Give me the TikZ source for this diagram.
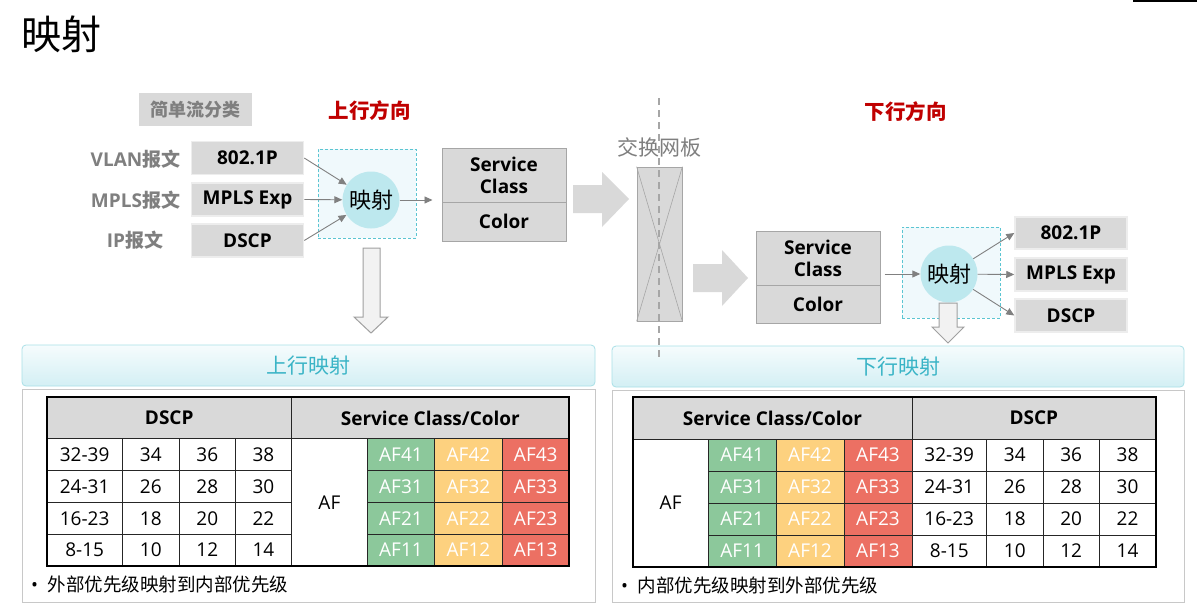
\documentclass[tikz,border=0pt]{standalone}
\usepackage{fontspec}
\setmainfont{Open Sans}
\newfontfamily\cjk{Noto Sans CJK SC}
\usetikzlibrary{arrows.meta}
\definecolor{boxgray}{HTML}{D9D9D9}
\definecolor{pktedge}{HTML}{EDEDED}
\definecolor{edgegray}{HTML}{A6A6A6}
\definecolor{txtgray}{HTML}{7F7F7F}
\definecolor{arrgray}{HTML}{808080}
\definecolor{dirred}{HTML}{C00000}
\definecolor{dashcyan}{HTML}{5BC5D2}
\definecolor{mapfill}{HTML}{F0F9FC}
\definecolor{circfill}{HTML}{BDE8EE}
\definecolor{hdrtop}{HTML}{F6FCFD}
\definecolor{hdrbot}{HTML}{D3EFF4}
\definecolor{hdredge}{HTML}{A9E0E7}
\definecolor{hdrtext}{HTML}{3AB4C6}
\definecolor{panedge}{HTML}{C8C8C8}
\definecolor{hollowfill}{HTML}{F2F2F2}
\definecolor{hollowedge}{HTML}{A0A0A0}
\definecolor{afgreen}{HTML}{8CC89B}
\definecolor{afyellow}{HTML}{FDD17F}
\definecolor{afred}{HTML}{EC7063}
\tikzset{
  txt/.style={inner sep=0pt, outer sep=0pt},
  pktbox/.style={rectangle, fill=boxgray, draw=pktedge, line width=1.5pt, minimum width=112pt, minimum height=33pt, inner sep=0pt, font=\fontsize{19}{23}\selectfont\bfseries},
  pktlbl/.style={txt, text=txtgray, font=\fontsize{19}{23}\selectfont\bfseries},
  flowarr/.style={draw=arrgray, line width=0.9pt, -{Triangle[length=8pt,width=7pt]}},
  mapzone/.style={rectangle, draw=dashcyan, dash pattern=on 3pt off 2pt, line width=0.9pt, fill=mapfill, inner sep=0pt},
  mapcirc/.style={circle, fill=circfill, minimum size=57pt, inner sep=0pt, font=\cjk\fontsize{22}{26}\selectfont},
  scpart/.style={rectangle, fill=boxgray, draw=edgegray, line width=1pt, minimum width=124pt, inner sep=0pt, align=center, font=\fontsize{19}{22}\selectfont\bfseries},
  blockarr/.style={fill=boxgray, draw=none},
  hollowarr/.style={fill=hollowfill, draw=hollowedge, line width=1pt},
  hdr/.style={rectangle, rounded corners=4pt, top color=hdrtop, bottom color=hdrbot, draw=hdredge, line width=0.8pt, minimum height=41pt, inner sep=0pt, text=hdrtext, font=\cjk\fontsize{21}{25}\selectfont},
  panel/.style={draw=panedge, line width=1pt, fill=white},
  cell/.style={txt, font=\fontsize{19}{23}\selectfont},
  afcell/.style={txt, text=white, font=\fontsize{19}{23}\selectfont},
  headcell/.style={txt, font=\fontsize{19}{23}\selectfont\bfseries},
  gridline/.style={draw=black!85, line width=0.9pt},
  tframe/.style={draw=black, line width=2.4pt},
  note/.style={txt, anchor=west, font=\fontsize{18.5}{22}\selectfont},
  dirlbl/.style={txt, text=dirred, font=\cjk\bfseries\fontsize{20.5}{24}\selectfont},
}
\begin{document}
\begin{tikzpicture}[x=1pt,y=-1pt]
\useasboundingbox (0,0) rectangle (1197,608);
\fill[white] (0,0) rectangle (1197,608);
\draw[line width=1.5pt] (1133,0.75) -- (1197,0.75);

% title
\node[txt, anchor=west, font=\cjk\fontsize{40}{48}\selectfont] (title) at (21,34) {映射};

% upstream
\node[rectangle, fill=boxgray, minimum width=113pt, minimum height=33pt, inner sep=0pt, text=txtgray, font=\cjk\bfseries\fontsize{18}{22}\selectfont] (sfc) at (195.5,109.5) {简单流分类};
\node[dirlbl] (updir) at (369.5,111) {上行方向};

\node[pktlbl] (lblvlan) at (135.5,159) {VLAN{\cjk 报文}};
\node[pktlbl] (lblmpls) at (135.5,200) {MPLS{\cjk 报文}};
\node[pktlbl] (lblip) at (135,240) {IP{\cjk 报文}};

\node[pktbox] (up8021p) at (247.5,158) {802.1P};
\node[pktbox] (upmpls) at (247.5,199.5) {MPLS Exp};
\node[pktbox] (updscp) at (247.5,240.5) {DSCP};

\node[mapzone, minimum width=98pt, minimum height=89pt] (upzone) at (367,193.5) {};
\node[mapcirc] (upmap) at (371,200) {映射};

\draw[flowarr] (up8021p.east) -- (upmap);
\draw[flowarr] (upmpls.east) -- (upmap);
\draw[flowarr] (updscp.east) -- (upmap);

\node[scpart, minimum height=54pt] (sc1top) at (504,175) {Service\\Class};
\node[scpart, minimum height=39pt] (sc1bot) at (504,221.5) {Color};
\draw[flowarr, shorten >=9pt] (upmap) -- (upmap -| sc1top.west);

% hollow down arrow (up)
\draw[hollowarr] (363,248) -- (380,248) -- (380,317) -- (388,317) -- (371,333) -- (354,317) -- (363,317) -- cycle;

% block arrows
\fill[blockarr] (573,185) -- (602,185) -- (602,172) -- (629,199) -- (602,227) -- (602,213) -- (573,213) -- cycle;
\fill[blockarr] (693,264) -- (722,264) -- (722,250) -- (748,278) -- (722,306) -- (722,292) -- (693,292) -- cycle;

% switch fabric
\node[txt, text=txtgray, font=\cjk\fontsize{21}{25}\selectfont] (fabriclbl) at (659,147) {交换网板};
\node[rectangle, fill=boxgray, draw=edgegray, line width=0.8pt, minimum width=45pt, minimum height=154pt, inner sep=0pt] (fabric) at (659.5,244) {};
\draw[edgegray, line width=0.6pt] (fabric.north west) -- (fabric.south east);
\draw[edgegray, line width=0.6pt] (fabric.north east) -- (fabric.south west);

% downstream
\node[dirlbl] (downdir) at (905.5,112) {下行方向};
\node[scpart, minimum height=54pt] (sc2top) at (818,258) {Service\\Class};
\node[scpart, minimum height=38pt] (sc2bot) at (818,304) {Color};
\node[mapzone, minimum width=98pt, minimum height=91pt] (dnzone) at (951,272.5) {};
\node[mapcirc] (dnmap) at (949,274) {映射};
\draw[flowarr, shorten <=4pt] (dnmap -| sc2top.east) -- (dnmap);

\node[pktbox, minimum height=32pt] (dn8021p) at (1071,233) {802.1P};
\node[pktbox] (dnmpls) at (1071,274.5) {MPLS Exp};
\node[pktbox] (dndscp) at (1071,315.5) {DSCP};
\draw[flowarr] (dnmap) -- (dn8021p.west);
\draw[flowarr] (dnmap) -- (dnmpls.west);
\draw[flowarr] (dnmap) -- (dndscp.west);

\draw[hollowarr] (939,303) -- (957,303) -- (957,327) -- (964,327) -- (948,343) -- (932,327) -- (939,327) -- cycle;

% panels
\node[hdr, minimum width=573pt] (uphdr) at (308.5,365.5) {上行映射};
\node[hdr, minimum width=572pt] (dnhdr) at (898,366.5) {下行映射};
\draw[panel] (22,389.5) rectangle (595,602);
\draw[panel] (612.5,390) rectangle (1184,602);

% dashed separator
\draw[draw=edgegray, line width=1.5pt, dash pattern=on 7pt off 5pt] (659,98) -- (659,357);

% ---- left table ----
\fill[boxgray] (47,397) rectangle (569.2,438.5);
\fill[afgreen] (367.3,438.5) rectangle (434.6,566);
\fill[afyellow] (434.6,438.5) rectangle (502.3,566);
\fill[afred] (502.3,438.5) rectangle (569.2,566);
\foreach \gx in {122.3,179.2,235.4,367.3,434.6,502.3} \draw[gridline] (\gx,438.5) -- (\gx,566);
\draw[gridline] (291.5,397) -- (291.5,566);
\draw[gridline] (47,438.5) -- (569.2,438.5);
\foreach \gy in {470.4,502.3,534.2} {
  \draw[gridline] (47,\gy) -- (291.5,\gy);
  \draw[gridline] (367.3,\gy) -- (569.2,\gy);
}
\draw[tframe] (47,397) rectangle (569.2,566);
\node[headcell] (LHd) at (169.25,418) {DSCP};
\node[headcell] (LHs) at (430.35,418) {Service Class/Color};
\node[cell] (LAF) at (329.4,502.3) {AF};
\foreach \yc/\a/\b/\c/\d/\n [count=\r] in {454.4/32-39/34/36/38/4, 486.3/24-31/26/28/30/3, 518.3/16-23/18/20/22/2, 550.1/8-15/10/12/14/1} {
  \node[cell] (L-\r-a) at (84.65,\yc) {\a};
  \node[cell] (L-\r-b) at (150.75,\yc) {\b};
  \node[cell] (L-\r-c) at (207.3,\yc) {\c};
  \node[cell] (L-\r-d) at (263.45,\yc) {\d};
  \node[afcell] (L-\r-e) at (400.95,\yc) {AF\n1};
  \node[afcell] (L-\r-f) at (468.45,\yc) {AF\n2};
  \node[afcell] (L-\r-g) at (535.75,\yc) {AF\n3};
}
\node[note] (upnote) at (31,584) {•\hspace{10pt}{\cjk 外部优先级映射到内部优先级}};

% ---- right table ----
\fill[boxgray] (633,397) rectangle (1155.7,439);
\fill[afgreen] (708.3,439) rectangle (776,567);
\fill[afyellow] (776,439) rectangle (844,567);
\fill[afred] (844,439) rectangle (912,567);
\foreach \gx in {708.3,776,844,986.5,1043,1099.4} \draw[gridline] (\gx,439) -- (\gx,567);
\draw[gridline] (912,397) -- (912,567);
\draw[gridline] (633,439) -- (1155.7,439);
\foreach \gy in {471,503,535} {
  \draw[gridline] (708.3,\gy) -- (1155.7,\gy);
}
\draw[tframe] (633,397) rectangle (1155.7,567);
\node[headcell] (RHs) at (772.5,418) {Service Class/Color};
\node[headcell] (RHd) at (1033.85,418) {DSCP};
\node[cell] (RAF) at (670.65,503) {AF};
\foreach \yc/\a/\b/\c/\d/\n [count=\r] in {455/32-39/34/36/38/4, 487/24-31/26/28/30/3, 519/16-23/18/20/22/2, 551/8-15/10/12/14/1} {
  \node[afcell] (R-\r-e) at (742.15,\yc) {AF\n1};
  \node[afcell] (R-\r-f) at (810,\yc) {AF\n2};
  \node[afcell] (R-\r-g) at (878,\yc) {AF\n3};
  \node[cell] (R-\r-a) at (949.25,\yc) {\a};
  \node[cell] (R-\r-b) at (1014.75,\yc) {\b};
  \node[cell] (R-\r-c) at (1071.2,\yc) {\c};
  \node[cell] (R-\r-d) at (1127.55,\yc) {\d};
}
\node[note] (dnnote) at (621,585) {•\hspace{10pt}{\cjk 内部优先级映射到外部优先级}};
\end{tikzpicture}
\end{document}
